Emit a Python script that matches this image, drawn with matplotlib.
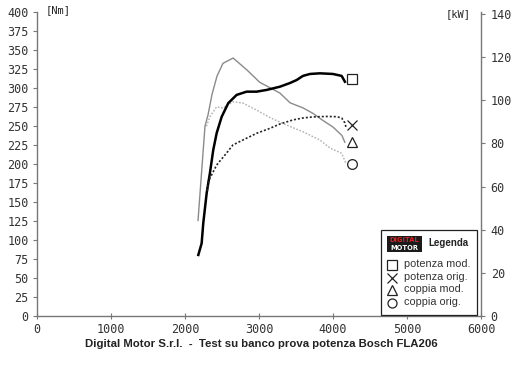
import numpy as np
import matplotlib
matplotlib.use("Agg")
import matplotlib.pyplot as plt
from matplotlib.lines import Line2D
from matplotlib.patches import Rectangle

# ------------------------------------------------------------
# Daten
# ------------------------------------------------------------

# potenza mod. [kW]
RPM_POT_MOD = [2180, 2225, 2247, 2293, 2337, 2382, 2428, 2495, 2585, 2698,
               2833, 2968, 3103, 3283, 3418, 3509, 3594, 3688, 3823, 3999,
               4117, 4161]
KW_POT_MOD = [28.3, 33.7, 43.1, 57.0, 66.3, 77.0, 84.8, 92.3, 98.7, 102.5,
              104.0, 104.0, 104.8, 106.3, 108.0, 109.4, 111.3, 112.2, 112.5, 112.2,
              111.3, 108.6]

# potenza orig. [kW]
RPM_POT_ORIG = [2300, 2314, 2428, 2563, 2648, 2783, 2968, 3148, 3283, 3459,
                3594, 3729, 3914, 4049, 4117, 4161, 4175]
KW_POT_ORIG = [58.0, 62.3, 70.0, 75.6, 79.3, 81.6, 84.7, 87.0, 89.0, 90.9,
               91.8, 92.3, 92.5, 92.4, 91.8, 89.5, 87.6]

# coppia mod. [Nm]
RPM_COP_MOD = [2176, 2270, 2311, 2365, 2432, 2513, 2650, 2840, 3010, 3280,
               3420, 3600, 3730, 3860, 4000, 4120, 4160]
NM_COP_MOD = [126, 250, 265, 292, 316, 333, 340, 324, 308, 294,
              281, 274, 267, 258, 249, 238, 229]

# coppia orig. [Nm]
RPM_COP_ORIG = [2290, 2337, 2428, 2513, 2648, 2783, 2968, 3148, 3374, 3594,
                3823, 3959, 4117, 4175]
NM_COP_ORIG = [250, 262.6, 275.8, 274.0, 282.3, 280.6, 271.4, 261.5, 251.6, 242.8,
               231.9, 221.3, 214.4, 201.2]

# Endmarker
END_RPM = 4260
END_KW = [109.9, 88.5]      # potenza mod., potenza orig.
END_NM = [229, 200]         # coppia mod., coppia orig.

NM_TICKS = np.arange(0, 401, 25)
KW_TICKS = np.arange(0, 141, 20)
RPM_TICKS = np.arange(0, 6001, 1000)

TITLE = "Digital Motor S.r.l.  -  Test su banco prova potenza Bosch FLA206"
LEGEND_LABELS = ["potenza mod.", "potenza orig.", "coppia mod.", "coppia orig."]
LEGEND_MARKERS = ["s", "x", "^", "o"]

# ------------------------------------------------------------
# Plot
# ------------------------------------------------------------

W, H = 520, 367
TICK_FONT = {"family": "DejaVu Sans Mono", "size": 8.5, "color": "#333333"}
AX_COLOR = "#777777"


def fx(px):
    return px / W


def fy(py):
    return 1 - py / H


fig = plt.figure(figsize=(W / 100, H / 100), dpi=100)
ax = fig.add_axes([fx(37), fy(316), fx(481) - fx(37), (316 - 12.5) / H])
ax2 = ax.twinx()

ax.set_xlim(0, 6000)
ax.set_ylim(0, 400)
ax2.set_ylim(0, 140 * 303.5 / 302)

# Kurven
ax2.plot(RPM_POT_MOD, KW_POT_MOD, color="black", lw=1.8)
ax2.plot(RPM_POT_ORIG, KW_POT_ORIG, color="#222222", lw=1.2, dashes=(1.2, 1.2))
ax.plot(RPM_COP_MOD, NM_COP_MOD, color="#8a8a8a", lw=1.0)
ax.plot(RPM_COP_ORIG, NM_COP_ORIG, color="#b0b0b0", lw=1.0, dashes=(1.2, 1.2))

mk = dict(ls="none", mfc="white", mec="#222222", mew=0.9, ms=7, clip_on=False)
ax2.plot([END_RPM], [END_KW[0]], marker="s", **mk)
ax2.plot([END_RPM], [END_KW[1]], marker="x", **mk)
ax.plot([END_RPM], [END_NM[0]], marker="^", **mk)
ax.plot([END_RPM], [END_NM[1]], marker="o", **mk)

# Achsen
for a in (ax, ax2):
    for s in a.spines.values():
        s.set_color(AX_COLOR)
        s.set_linewidth(1.0)
    a.spines["top"].set_visible(False)
ax.spines["right"].set_visible(False)
ax2.spines["left"].set_visible(False)
ax2.spines["bottom"].set_visible(False)

ax.set_yticks(NM_TICKS)
ax.set_yticklabels([str(v) for v in NM_TICKS], fontdict=TICK_FONT)
ax.set_xticks(RPM_TICKS)
ax.set_xticklabels([str(v) for v in RPM_TICKS], fontdict=TICK_FONT)
ax2.set_yticks(KW_TICKS)
ax2.set_yticklabels([str(v) for v in KW_TICKS], fontdict=TICK_FONT)

ax.tick_params(axis="y", direction="out", length=3, width=0.8, color=AX_COLOR, pad=3)
ax.tick_params(axis="x", direction="inout", length=4, width=0.8, color=AX_COLOR, pad=3)
ax2.tick_params(axis="y", direction="out", length=3, width=0.8, color=AX_COLOR, pad=4)

fig.text(fx(46), fy(10), "[Nm]", fontsize=7.5, family="DejaVu Sans Mono",
         color="#222222", va="center", ha="left")
fig.text(fx(446), fy(14), "[kW]", fontsize=7.5, family="DejaVu Sans Mono",
         color="#222222", va="center", ha="left")

fig.text(fx(261), fy(344), TITLE, fontsize=8.2, weight="bold", color="#222222",
         family="Liberation Sans", ha="center", va="center")

# Legende (Kasten)
fig.add_artist(Rectangle((fx(381), fy(315)), fx(477) - fx(381), fy(229.5) - fy(315),
                         transform=fig.transFigure, fill=True, fc="white",
                         ec="#222222", lw=0.9))
# Logo
fig.add_artist(Rectangle((fx(387), fy(252)), fx(422) - fx(387), fy(236) - fy(252),
                         transform=fig.transFigure, fc="#1a1a1a", ec="none"))
fig.text(fx(404.5), fy(240.3), "DIGITAL", fontsize=4.8, weight="bold", color="#e02020",
         family="DejaVu Sans", ha="center", va="center")
fig.text(fx(404.5), fy(248), "MOTOR", fontsize=4.8, weight="bold", color="white",
         family="DejaVu Sans", ha="center", va="center")
fig.text(fx(428), fy(243.5), "Legenda", fontsize=7, weight="bold", color="#222222",
         family="Liberation Sans", ha="left", va="center")

for i, (lab, m) in enumerate(zip(LEGEND_LABELS, LEGEND_MARKERS)):
    y = 265 + i * 12.7
    fig.add_artist(Line2D([fx(392)], [fy(y)], transform=fig.transFigure, marker=m,
                          ls="none", mfc="white", mec="#222222", mew=0.9, ms=6.5))
    fig.text(fx(404), fy(y - 1), lab, fontsize=7.8, color="#333333",
             family="Liberation Sans", ha="left", va="center")

fig.savefig("out.png", dpi=100, facecolor="white")
